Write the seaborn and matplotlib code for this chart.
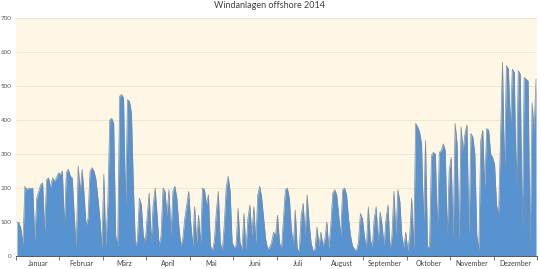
import numpy as np
import pandas as pd
import matplotlib
matplotlib.use("Agg")
import matplotlib.pyplot as plt
import seaborn as sns

title = "Windanlagen offshore 2014"
months = ["Januar", "Februar", "März", "April", "Mai", "Juni", "Juli",
          "August", "September", "Oktober", "November", "Dezember"]

# Offshore wind output (MW), ~22 samples per month
jan = [100, 98, 80, 35, 205, 195, 200, 198, 200, 47, 170, 190, 210, 215, 75, 225, 230, 200, 230, 220, 230, 245]
feb = [240, 250, 90, 245, 255, 235, 230, 120, 20, 265, 190, 255, 180, 90, 110, 250, 260, 250, 225, 170, 110, 25]
mar = [240, 30, 150, 400, 405, 390, 60, 30, 470, 475, 465, 150, 460, 455, 420, 200, 30, 45, 170, 150, 60, 40]
apr = [120, 185, 40, 150, 200, 120, 30, 60, 200, 190, 120, 195, 60, 190, 205, 170, 90, 30, 50, 110, 150, 190]
mai = [100, 30, 145, 40, 120, 35, 200, 195, 150, 180, 30, 15, 45, 130, 190, 40, 15, 90, 200, 235, 190, 40]
jun = [25, 30, 140, 40, 20, 125, 15, 110, 150, 60, 145, 40, 180, 205, 170, 110, 50, 20, 25, 40, 70, 60]
jul = [120, 40, 20, 110, 195, 200, 170, 80, 30, 135, 20, 15, 120, 155, 60, 180, 100, 40, 15, 20, 85, 30]
aug = [70, 30, 50, 100, 20, 90, 185, 195, 180, 120, 60, 195, 200, 180, 110, 60, 30, 20, 15, 40, 125, 110]
sep = [60, 20, 145, 50, 25, 110, 145, 40, 130, 90, 30, 110, 150, 20, 60, 190, 60, 195, 160, 60, 25, 70]
okt = [15, 60, 170, 20, 390, 380, 365, 330, 100, 340, 30, 20, 295, 305, 300, 80, 305, 310, 330, 310, 60, 250]
nov = [290, 50, 390, 330, 40, 380, 310, 360, 385, 60, 360, 350, 300, 60, 20, 340, 370, 200, 375, 370, 300, 290]
dez = [270, 150, 120, 350, 570, 250, 560, 550, 380, 550, 540, 200, 545, 535, 80, 525, 520, 515, 30, 450, 370, 520]

y_ticks = [0, 100, 200, 300, 400, 500, 600, 700]

series = [jan, feb, mar, apr, mai, jun, jul, aug, sep, okt, nov, dez]
rows = []
for k, vals in enumerate(series):
    n = len(vals)
    for i, v in enumerate(vals):
        rows.append({"t": k + (i + 0.5) / n, "value": v})
df = pd.DataFrame(rows)

sns.set_theme(style="white")
plt.rcParams["font.family"] = ["Lato", "DejaVu Sans"]

fig = plt.figure(figsize=(5.4, 2.69), dpi=100)
ax = fig.add_axes([16 / 540, 1 - 256 / 269, 521 / 540, 238 / 269])
ax.set_facecolor("#FEF7E6")

blue = "#5893D1"
ax.fill_between(df["t"], df["value"], 0, color=blue, lw=0, zorder=2)
sns.lineplot(data=df, x="t", y="value", ax=ax, color="#7A8A9C", lw=0.5, zorder=3)

ax.set_xlim(0, 12)
ax.set_ylim(0, 700)
ax.set_yticks(y_ticks)
ax.set_yticklabels([str(v) for v in y_ticks], fontsize=4.5, color="#595959")
ax.yaxis.grid(True, color="#EBE3CF", lw=0.6, zorder=0)
ax.xaxis.grid(False)
ax.set_axisbelow(True)

ax.set_xticks(np.arange(0, 13))
ax.set_xticklabels([])
ax.set_xticks(np.arange(12) + 0.5, minor=True)
ax.set_xticklabels(months, minor=True, fontsize=5, color="#404040")
ax.tick_params(axis="x", which="major", length=3, width=0.6, color="#595959", direction="out", bottom=True)
ax.tick_params(axis="x", which="minor", length=0, pad=3)
ax.tick_params(axis="y", length=0, pad=3)
ax.set_xlabel("")
ax.set_ylabel("")

for s in ["top", "right", "left"]:
    ax.spines[s].set_visible(False)
ax.spines["bottom"].set_color("#595959")
ax.spines["bottom"].set_linewidth(0.7)
ax.spines["bottom"].set_zorder(5)

fig.text(0.5, 1 - 5.5 / 269, title, ha="center", va="center", fontsize=6.5, color="#404040")

fig.savefig("out.png", dpi=100, facecolor="white")
